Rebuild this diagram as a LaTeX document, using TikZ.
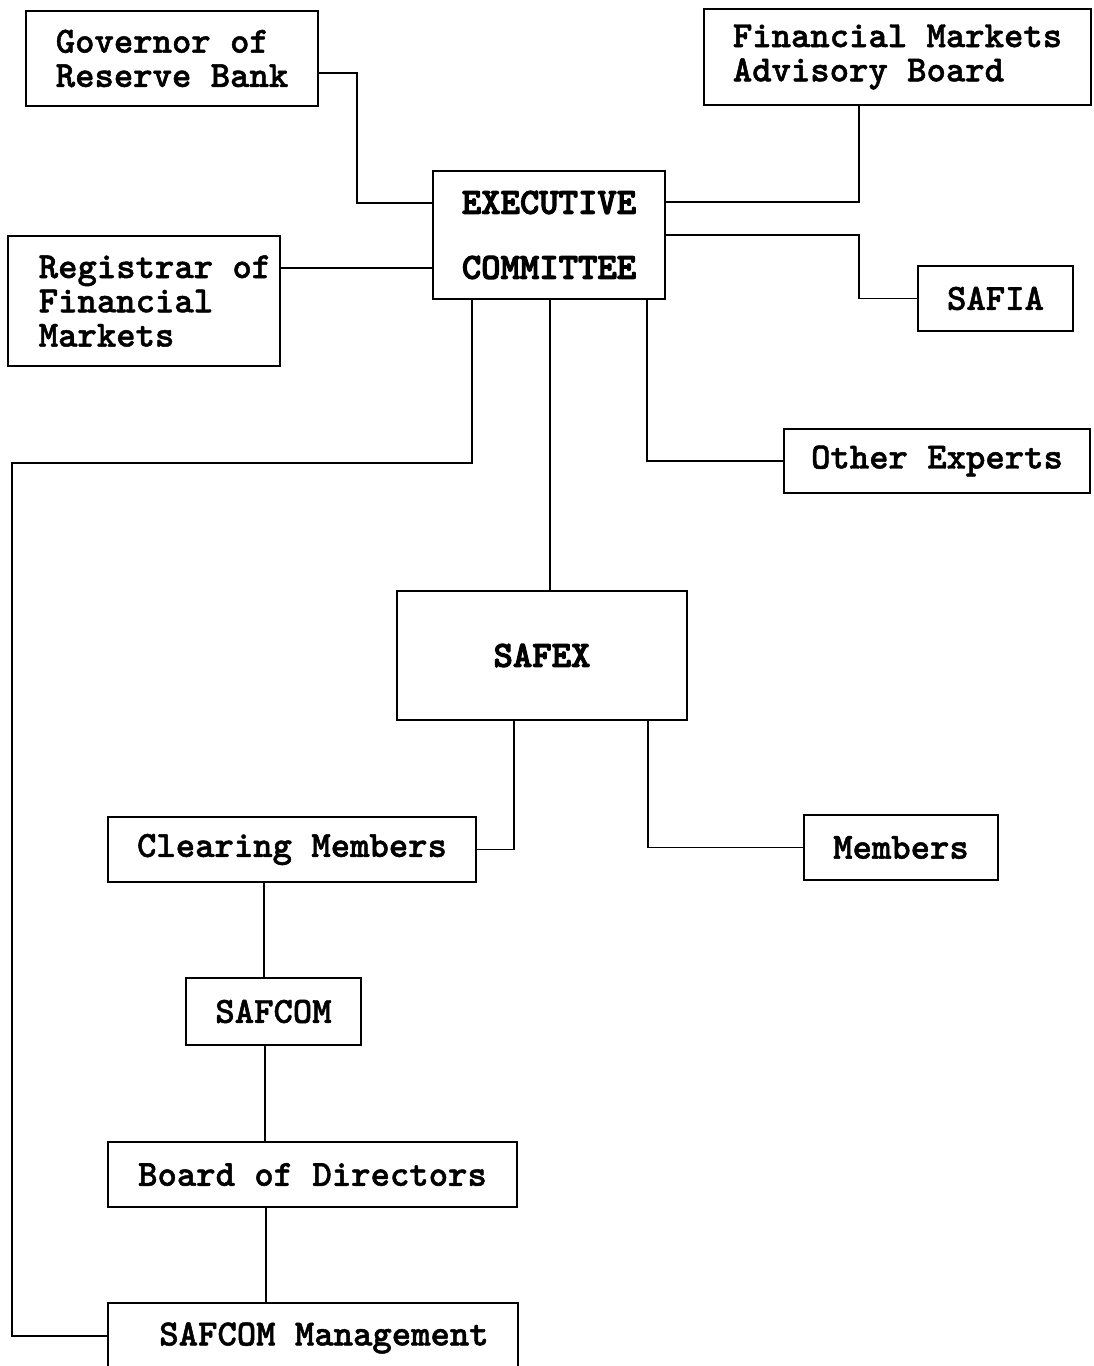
\documentclass[tikz,border=0pt]{standalone}
\usepackage{fontspec}
\newfontfamily\boxfont{lmmonolt10-bold}[Extension=.otf,FakeBold=1.3]
\newfontfamily\heavyfont{lmmonolt10-bold}[Extension=.otf,FakeBold=2.8]
\usetikzlibrary{positioning,calc}
\tikzset{
  orgbox/.style={draw, line width=1.4pt, inner sep=0pt, font=\boxfont\fontsize{21}{19.5}\selectfont},
  headbox/.style={draw, line width=1.4pt, inner sep=0pt, align=center, font=\heavyfont\fontsize{21}{37}\selectfont},
  link/.style={line width=1.1pt}
}

\begin{document}
\begin{tikzpicture}[x=0.02cm, y=-0.02cm]
    \useasboundingbox (0,0) rectangle (1093,1366);
    % Committee and its advisers
    \node[headbox, minimum width=4.64cm, minimum height=2.56cm] (exec) at (549,235) {EXECUTIVE\\COMMITTEE};
    \node[orgbox, align=left, minimum width=5.84cm, minimum height=1.9cm] (gov) at (172,58.5) {Governor of\\Reserve Bank};
    \node[orgbox, align=left, minimum width=7.74cm, minimum height=1.92cm] (fmab) at (897.5,57) {Financial Markets\\Advisory Board};
    \node[orgbox, align=left, minimum width=5.44cm, minimum height=2.6cm] (reg) at (144,301) {\hspace*{0.44cm}Registrar of\\\hspace*{0.44cm}Financial\\\hspace*{0.44cm}Markets};
    \node[orgbox, minimum width=3.1cm, minimum height=1.3cm] (safia) at (995.5,298.5) {SAFIA};
    \node[orgbox, minimum width=6.12cm, minimum height=1.28cm] (other) at (937,461) {Other Experts};

    % Exchange
    \node[headbox, minimum width=5.8cm, minimum height=2.58cm] (safex) at (542,655.5) {SAFEX};
    \node[orgbox, minimum width=7.36cm, minimum height=1.3cm] (clear) at (292,849.5) {Clearing Members};
    \node[orgbox, minimum width=3.88cm, minimum height=1.3cm] (members) at (901,847.5) {Members};

    % Clearing house
    \node[orgbox, minimum width=3.5cm, minimum height=1.34cm] (safcom) at (273.5,1011.5) {SAFCOM};
    \node[orgbox, minimum width=8.18cm, minimum height=1.3cm] (board) at (312.5,1174.5) {Board of Directors};
    \node[orgbox, minimum width=8.2cm, minimum height=1.4cm] (mgmt) at (313,1338) {\hspace*{0.44cm}SAFCOM Management};

    % Connectors
    \draw[link] (gov.east |- 0,73) -| (357,203) -- (exec.west |- 0,203);
    \draw[link] (fmab.south -| 859,0) |- (exec.east |- 0,202);
    \draw[link] (reg.east |- 0,268) -- (exec.west |- 0,268);
    \draw[link] (exec.east) -- (859,0 |- exec.east) |- (safia.west);
    \draw[link] (exec.south -| 647,0) |- (other.west);
    \draw[link] (exec.south -| 550,0) -- (safex.north -| 550,0);
    \draw[link] (exec.south -| 472,0) |- (12,463) |- (mgmt.west |- 0,1336);
    \draw[link] (safex.south -| 514,0) |- (clear.east);
    \draw[link] (safex.south -| 648,0) |- (members.west);
    \draw[link] (clear.south -| 264,0) -- (safcom.north -| 264,0);
    \draw[link] (safcom.south -| 265,0) -- (board.north -| 265,0);
    \draw[link] (board.south -| 266,0) -- (mgmt.north -| 266,0);
\end{tikzpicture}
\end{document}
